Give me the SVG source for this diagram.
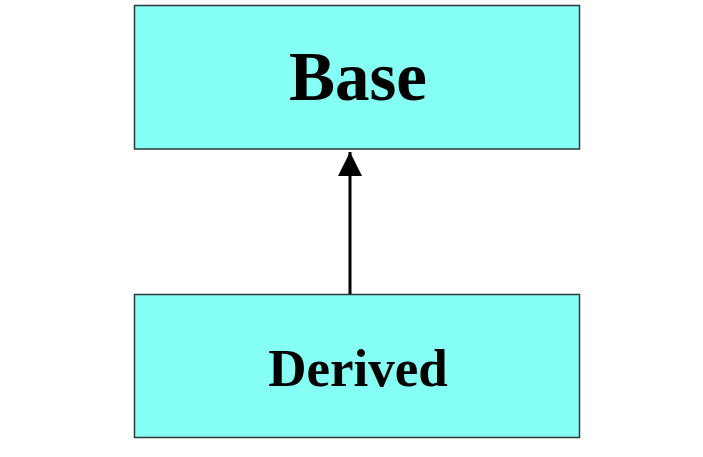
<svg xmlns="http://www.w3.org/2000/svg" width="703" height="457" viewBox="0 0 703 457">
<style>
.box{fill:#86fff4;stroke:#2a3a3a;stroke-width:1.5}
.lbl{font-family:"Liberation Serif","Times New Roman",serif;font-weight:bold;fill:#000;text-anchor:middle}
.conn{stroke:#000;stroke-width:3;fill:none}
</style>
<defs>
<marker id="arr" markerWidth="8" markerHeight="8" refX="8" refY="4" orient="auto" markerUnits="strokeWidth" viewBox="0 0 8 8">
<path d="M0,0 L8,4 L0,8 Z" fill="#000"/>
</marker>
</defs>
<rect width="703" height="457" fill="#fff"/>
<g id="base">
<rect class="box" x="134.5" y="5.5" width="445" height="143.5"/>
<text class="lbl" x="358" y="100" font-size="69">Base</text>
</g>
<g id="derived">
<rect class="box" x="134.5" y="294.5" width="445" height="143"/>
<text class="lbl" x="358" y="386" font-size="53">Derived</text>
</g>
<g id="connectors">
<line class="conn" x1="350" y1="294" x2="350" y2="152" marker-end="url(#arr)"/>
</g>
</svg>
